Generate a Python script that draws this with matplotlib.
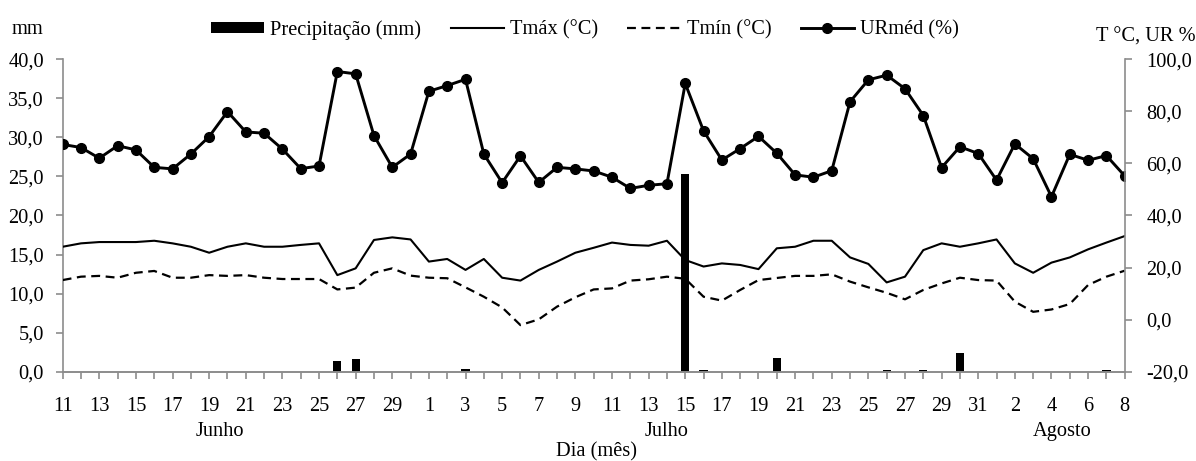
import matplotlib.pyplot as plt
import matplotlib.transforms as mtransforms
from matplotlib.ticker import FuncFormatter
import numpy as np

plt.rcParams['font.family'] = ['Liberation Serif', 'DejaVu Serif']

# Days from 11 June to 8 August
days = list(range(11, 31)) + list(range(1, 32)) + list(range(1, 9))
months = ['Junho', 'Julho', 'Agosto']

# Precipitation (mm), left axis
precip = [0, 0, 0, 0, 0, 0, 0, 0, 0, 0,
          0, 0, 0, 0, 0, 1.4, 1.6, 0, 0, 0,
          0, 0, 0.4, 0, 0, 0, 0, 0, 0, 0,
          0, 0, 0, 0, 25.3, 0.2, 0, 0, 0, 1.8,
          0, 0, 0, 0, 0, 0.2, 0, 0.2, 0, 2.4,
          0, 0, 0, 0, 0, 0, 0, 0.2, 0]

# Temperatures (°C) and mean relative humidity (%), right axis
tmax = [28.0, 29.3, 29.8, 29.8, 29.8, 30.3, 29.3, 28.0, 25.7, 28.0,
        29.3, 28.0, 28.0, 28.7, 29.3, 17.1, 19.7, 30.6, 31.6, 30.8,
        22.3, 23.3, 19.1, 23.3, 16.1, 15.0, 19.1, 22.3, 25.7, 27.6,
        29.6, 28.7, 28.4, 30.3, 22.9, 20.4, 21.6, 21.0, 19.4, 27.4,
        28.0, 30.3, 30.3, 23.9, 21.4, 14.3, 16.5, 26.7, 29.3, 28.0,
        29.3, 30.8, 21.6, 18.0, 21.9, 23.9, 27.0, 29.6, 32.1]
tmin = [15.2, 16.5, 16.8, 16.1, 18.0, 18.7, 16.1, 16.1, 17.1, 16.8,
        17.1, 16.1, 15.6, 15.6, 15.6, 11.6, 12.3, 18.0, 19.7, 16.9,
        16.1, 15.9, 12.4, 8.8, 4.7, -2.1, 0.1, 5.0, 8.6, 11.6,
        12.0, 15.0, 15.5, 16.5, 15.7, 8.8, 7.3, 11.4, 15.2, 16.0,
        16.8, 16.8, 17.4, 14.6, 12.4, 10.3, 7.8, 11.4, 13.9, 16.1,
        15.2, 15.0, 6.9, 3.0, 3.9, 6.0, 13.3, 16.5, 18.8]
ur = [67.3, 66.1, 62.0, 66.8, 65.2, 58.5, 57.9, 63.6, 70.3, 79.9,
      72.1, 71.6, 65.5, 58.0, 59.0, 95.3, 94.4, 70.7, 58.5, 63.6,
      87.7, 89.9, 92.3, 63.6, 52.6, 62.9, 52.7, 58.5, 57.9, 57.1,
      54.7, 50.4, 51.6, 52.2, 90.7, 72.5, 61.3, 65.7, 70.4, 63.9,
      55.6, 54.7, 57.2, 83.7, 92.1, 93.9, 88.7, 78.4, 58.4, 66.4,
      63.8, 53.6, 67.5, 61.8, 47.2, 63.5, 61.2, 63.0, 55.2]

x = np.arange(len(days))
gray = '#8c8c8c'
fs = 14.7

fig = plt.figure(figsize=(11.96, 4.61), dpi=100)
ax = fig.add_axes([0.0524, 0.1937, 0.888, 0.6777])
ax2 = ax.twinx()

bars = ax.bar(x, precip, width=0.45, color='black', label='Precipitação (mm)')
l1, = ax2.plot(x, tmax, color='black', lw=1.5, label='Tmáx (°C)')
l2, = ax2.plot(x, tmin, color='black', lw=1.6, ls=(0, (4, 2.5)), label='Tmín (°C)')
l3, = ax2.plot(x, ur, color='black', lw=2.1, marker='o', ms=7, label='URméd (%)')

ax.set_xlim(0, len(days) - 1)
ax.set_ylim(0, 40)
ax2.set_ylim(-20, 100)
ax.set_yticks(np.arange(0, 41, 5))
ax2.set_yticks(np.arange(-20, 101, 20))

comma = FuncFormatter(lambda v, p: f'{v:.1f}'.replace('.', ','))
ax.yaxis.set_major_formatter(comma)
ax2.yaxis.set_major_formatter(comma)

ax.set_xticks(x)
ax.set_xticklabels([str(d) if i % 2 == 0 else '' for i, d in enumerate(days)])

for a in (ax, ax2):
    a.spines['top'].set_visible(False)
    for s in ('left', 'right', 'bottom'):
        a.spines[s].set_color(gray)
        a.spines[s].set_linewidth(1.2)
ax.spines['right'].set_visible(False)
ax2.spines['left'].set_visible(False)

ax.tick_params(axis='x', direction='out', length=5, width=1.2, color=gray, pad=13.5, labelsize=fs)
ax.tick_params(axis='y', direction='out', length=5, width=1.2, color=gray, pad=8.5, labelsize=fs)
ax2.tick_params(axis='y', direction='out', length=5, width=1.2, color=gray, pad=10.5, labelsize=fs)

# month names under the day ticks
trans = mtransforms.blended_transform_factory(ax.transData, ax.transAxes)
for name, pos in zip(months, [8.6, 33.0, 54.6]):
    ax.text(pos, -0.19, name, transform=trans, ha='center', va='center', fontsize=fs)

fig.text(27.5 / 1196, 1 - 30 / 461, 'mm', ha='center', va='center', fontsize=fs)
fig.text(1145.5 / 1196, 1 - 37 / 461, 'T °C, UR %', ha='center', va='center', fontsize=fs)
fig.text(0.499, 0.0195, 'Dia (mês)', ha='center', va='center', fontsize=fs)

fig.legend([bars, l1, l2, l3], [bars.get_label(), l1.get_label(), l2.get_label(), l3.get_label()],
           loc='center', bbox_to_anchor=(0.489, 0.935), ncol=4, frameon=False,
           handlelength=2.6, handletextpad=0.3, columnspacing=1.45, handleheight=0.5,
           numpoints=1, fontsize=fs)

fig.savefig('out.png', dpi=100)
